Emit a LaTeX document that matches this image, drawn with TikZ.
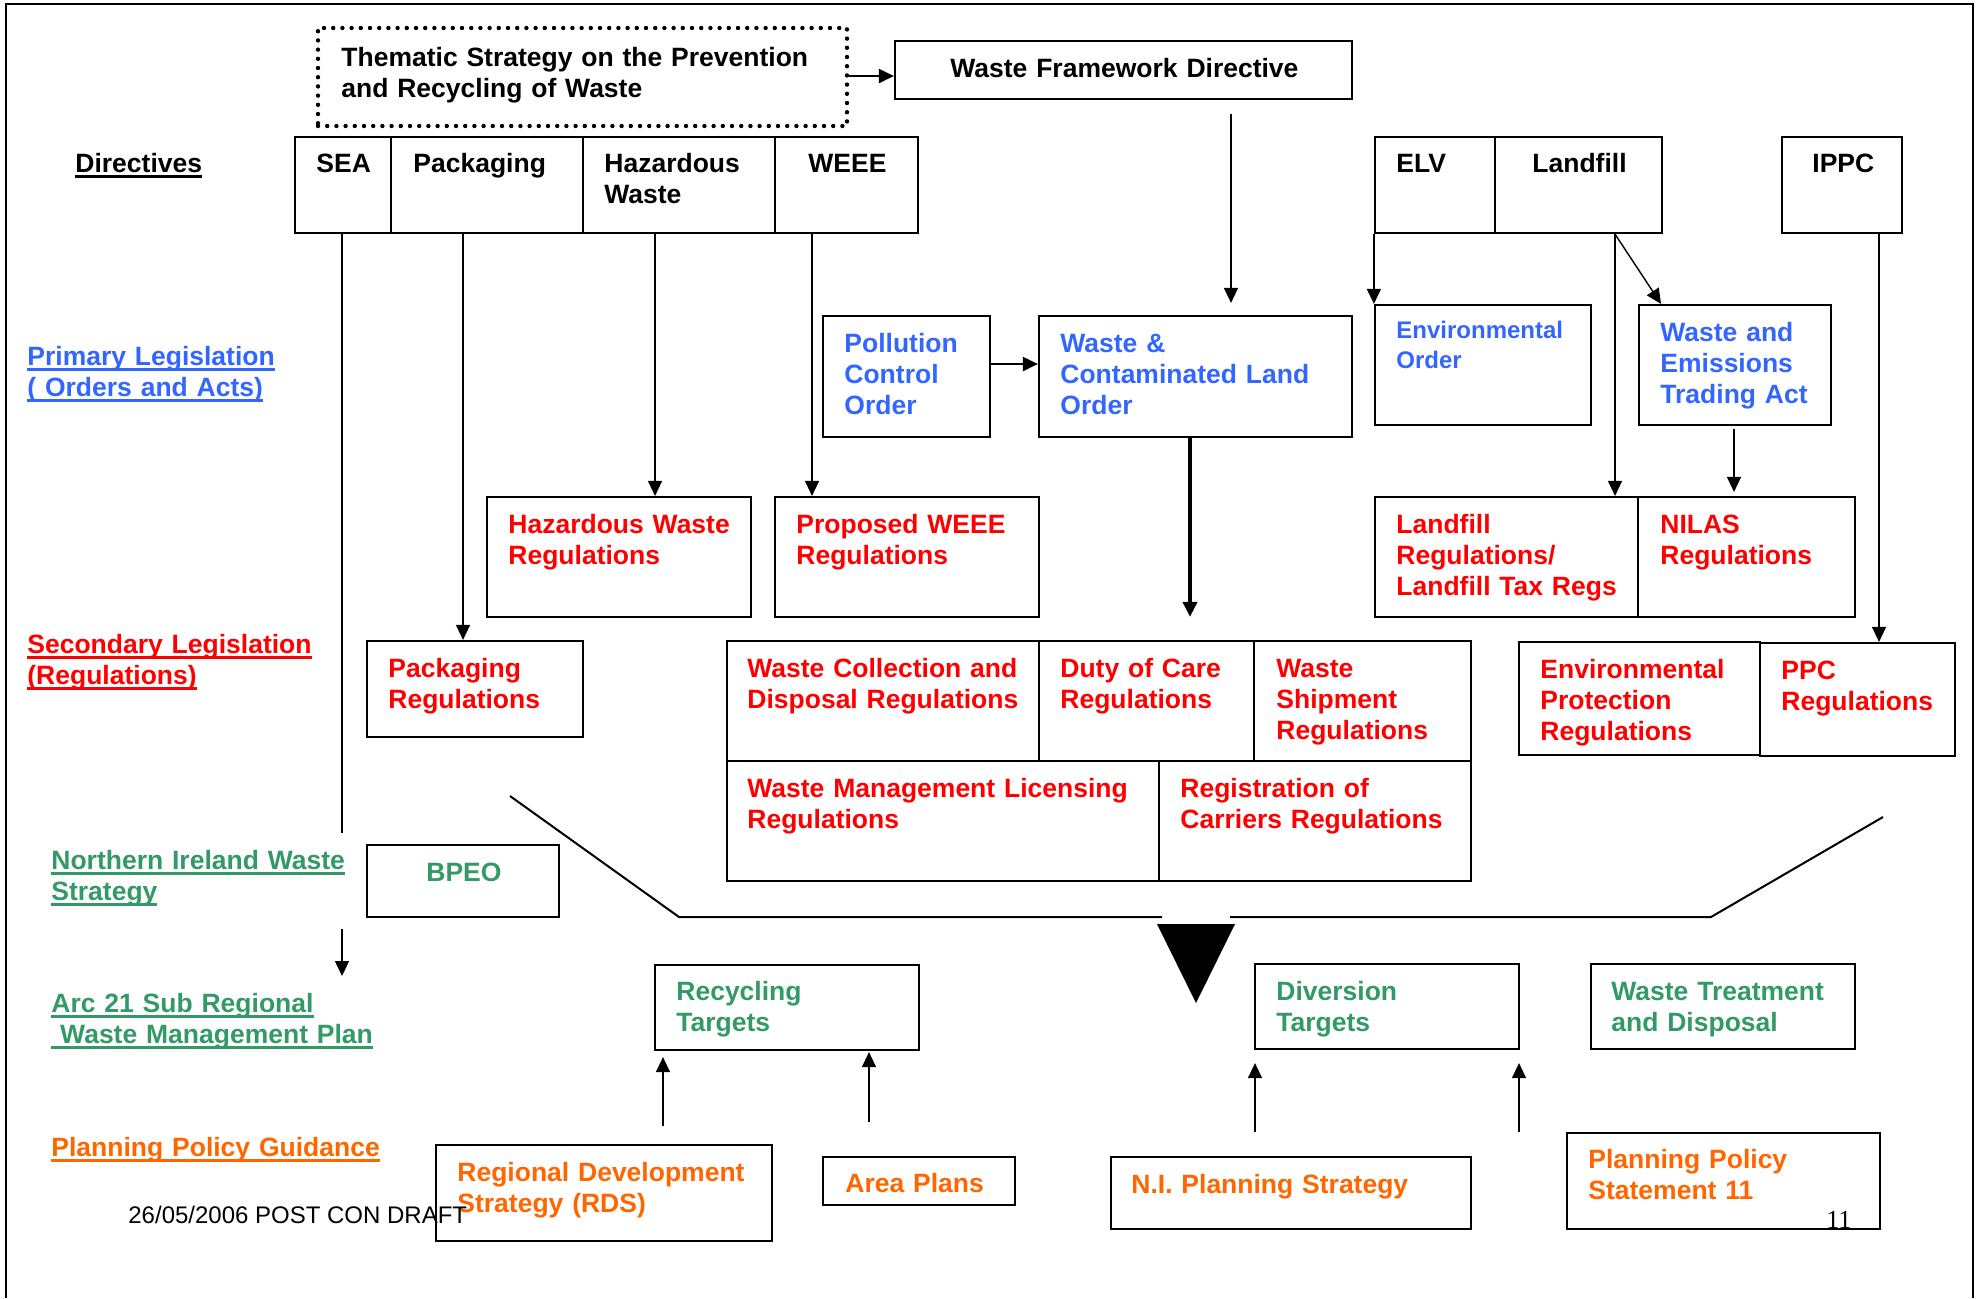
\documentclass[tikz,border=0pt]{standalone}
\usepackage{fontspec}
\setmainfont{Liberation Sans}
\newfontfamily\pgserif{Liberation Serif}
\usetikzlibrary{arrows.meta,fit,calc}
\definecolor{pblue}{HTML}{3366FF}
\definecolor{pred}{HTML}{FF0000}
\definecolor{pgreen}{HTML}{339966}
\definecolor{porange}{HTML}{FF6600}
\newcommand{\uln}[1]{\leavevmode\setbox0\hbox{#1}\rlap{\rule[-2.8pt]{\wd0}{1.1pt}}\box0}
\begin{document}
\begin{tikzpicture}[x=0.5pt,y=-0.5pt,
  box/.style={draw, line width=1.1pt, inner sep=0pt},
  txt/.style={inner sep=0pt, anchor=base west, align=left, text width=260pt, font=\bfseries\fontsize{13.25}{15.5}\selectfont},
  arr/.style={line width=0.7pt, -{Triangle[length=7.5pt,width=7pt]}},
  heavy/.style={line width=1.9pt, -{Triangle[length=7.5pt,width=7pt]}},
  thinline/.style={line width=0.7pt}]
\useasboundingbox (0,0) rectangle (1981,1298);
% frame
\draw[line width=1.2pt] (6,1298) -- (6,4) -- (1973,4) -- (1973,1298);

% helper coordinates
\foreach \xx in {342,463,655,812,1190,1231,1615,1661,1734,1879,663,869,1255,1519}
  \coordinate (x\xx) at (\xx,0);
\foreach \yy in {76,364,833}
  \coordinate (y\yy) at (0,\yy);

% ---- boxes
\node[box, line width=2.2pt, dash pattern=on 0pt off 4.6pt, line cap=round, fit={(318,28) (847,126)}] (thematic) {};
\node[box, fit={(895,41) (1352,99)}] (wfd) {};
\node[box, fit={(295,137) (391,233)}] (sea) {};
\node[box, fit={(391,137) (583,233)}] (pack) {};
\node[box, fit={(583,137) (775,233)}] (haz) {};
\node[box, fit={(775,137) (918,233)}] (weee) {};
\node[box, fit={(1375,137) (1495,233)}] (elv) {};
\node[box, fit={(1495,137) (1662,233)}] (landf) {};
\node[box, fit={(1782,137) (1902,233)}] (ippc) {};
\node[box, fit={(823,316) (990,437)}] (pco) {};
\node[box, fit={(1039,316) (1352,437)}] (wcl) {};
\node[box, fit={(1375,305) (1591,425)}] (envo) {};
\node[box, fit={(1639,305) (1831,425)}] (weta) {};
\node[box, fit={(487,497) (751,617)}] (hazr) {};
\node[box, fit={(775,497) (1039,617)}] (weeer) {};
\node[box, fit={(1375,497) (1638,617)}] (lfr) {};
\node[box, fit={(1638,497) (1855,617)}] (nilas) {};
\node[box, fit={(367,641) (583,737)}] (pkgr) {};
\node[box, fit={(727,641) (1039,761)}] (wcd) {};
\node[box, fit={(1039,641) (1254,761)}] (doc) {};
\node[box, fit={(1254,641) (1471,761)}] (wsr) {};
\node[box, fit={(727,761) (1159,881)}] (wml) {};
\node[box, fit={(1159,761) (1471,881)}] (rcr) {};
\node[box, fit={(1519,642) (1760,755)}] (epr) {};
\node[box, fit={(1760,643) (1955,756)}] (ppc) {};
\node[box, fit={(367,845) (559,917)}] (bpeo) {};
\node[box, fit={(655,965) (919,1050)}] (rec) {};
\node[box, fit={(1255,964) (1519,1049)}] (div) {};
\node[box, fit={(1591,964) (1855,1049)}] (wtd) {};
\node[box, fit={(436,1145) (772,1241)}] (rds) {};
\node[box, fit={(823,1157) (1015,1205)}] (area) {};
\node[box, fit={(1111,1157) (1471,1229)}] (nips) {};
\node[box, fit={(1567,1133) (1880,1229)}] (pps) {};

% ---- texts: black
\node[txt] (thematic-t) at (341,66) {Thematic Strategy on the Prevention\\and Recycling of Waste};
\node[txt] (wfd-t) at (950,77) {Waste Framework Directive};
\node[txt] (sea-t) at (316,172) {SEA};
\node[txt] (pack-t) at (413,172) {Packaging};
\node[txt] (haz-t) at (604,172) {Hazardous\\Waste};
\node[txt] (weee-t) at (808,172) {WEEE};
\node[txt] (elv-t) at (1396,172) {ELV};
\node[txt] (landf-t) at (1532,172) {Landfill};
\node[txt] (ippc-t) at (1812,172) {IPPC};
\node[txt] (dir-l) at (75,172) {\uln{Directives}};

% blue
\begin{scope}[every node/.append style={text=pblue}]
\node[txt] (prim-l) at (27,365) {\uln{Primary Legislation}\\\uln{( Orders and Acts)}};
\node[txt] (pco-t) at (844,352) {Pollution\\Control\\Order};
\node[txt] (wcl-t) at (1060,352) {Waste \&\\Contaminated Land\\Order};
\node[txt, font=\bfseries\fontsize{12}{15}\selectfont] (envo-t) at (1396,338) {Environmental\\Order};
\node[txt] (weta-t) at (1660,341) {Waste and\\Emissions\\Trading Act};
\end{scope}

% red
\begin{scope}[every node/.append style={text=pred}]
\node[txt] (sec-l) at (27,653) {\uln{Secondary Legislation}\\\uln{(Regulations)}};
\node[txt] (hazr-t) at (508,533) {Hazardous Waste\\Regulations};
\node[txt] (weeer-t) at (796,533) {Proposed WEEE\\Regulations};
\node[txt] (lfr-t) at (1396,533) {Landfill\\Regulations/\\Landfill Tax Regs};
\node[txt] (nilas-t) at (1660,533) {NILAS\\Regulations};
\node[txt] (pkgr-t) at (388,677) {Packaging\\Regulations};
\node[txt] (wcd-t) at (747,677) {Waste Collection and\\Disposal Regulations};
\node[txt] (doc-t) at (1060,677) {Duty of Care\\Regulations};
\node[txt] (wsr-t) at (1276,677) {Waste\\Shipment\\Regulations};
\node[txt] (wml-t) at (747,797) {Waste Management Licensing\\Regulations};
\node[txt] (rcr-t) at (1180,797) {Registration of\\Carriers Regulations};
\node[txt] (epr-t) at (1540,678) {Environmental\\Protection\\Regulations};
\node[txt] (ppc-t) at (1781,679) {PPC\\Regulations};
\end{scope}

% green
\begin{scope}[every node/.append style={text=pgreen}]
\node[txt] (ni-l) at (51,869) {\uln{Northern Ireland Waste}\\\uln{Strategy}};
\node[txt] (bpeo-t) at (426,881) {BPEO};
\node[txt] (arc-l) at (51,1012) {\uln{Arc 21 Sub Regional}\\\uln{\ Waste Management Plan}};
\node[txt] (rec-t) at (676,1000) {Recycling\\Targets};
\node[txt] (div-t) at (1276,1000) {Diversion\\Targets};
\node[txt] (wtd-t) at (1611,1000) {Waste Treatment\\and Disposal};
\end{scope}

% orange
\begin{scope}[every node/.append style={text=porange}]
\node[txt] (ppg-l) at (51,1156) {\uln{Planning Policy Guidance}};
\node[txt] (rds-t) at (457,1181) {Regional Development\\Strategy (RDS)};
\node[txt] (area-t) at (845,1192) {Area Plans};
\node[txt] (nips-t) at (1131,1193) {N.I. Planning Strategy};
\node[txt] (pps-t) at (1588,1168) {Planning Policy\\Statement 11};
\end{scope}

\node[inner sep=0pt, anchor=base west, font=\fontsize{12}{14}\selectfont] (draft) at (128,1223) {26/05/2006 POST CON DRAFT};
\node[inner sep=0pt, anchor=base west, font=\pgserif\fontsize{13}{15}\selectfont] (pagenum) at (1826,1228) {11};

% ---- connectors
\draw[arr, line width=1pt] (thematic.east |- y76) -- (wfd.west |- y76);
\draw[arr, shorten <=7pt, shorten >=6pt] (wfd.south -| x1231) -- (wcl.north -| x1231);
\draw[thinline] (sea.south -| x342) -- (x342 |- y833);
\draw[arr] (pack.south -| x463) -- (pkgr.north -| x463);
\draw[arr] (haz.south -| x655) -- (hazr.north -| x655);
\draw[arr] (weee.south -| x812) -- (weeer.north -| x812);
\draw[arr, line width=1pt] (pco.east |- y364) -- (wcl.west |- y364);
\draw[arr] (elv.south west) -- (envo.north west);
\draw[arr] (landf.south -| x1615) -- (weta.north -| x1661);
\draw[arr] (landf.south -| x1615) -- (lfr.north -| x1615);
\draw[arr, shorten <=1.5pt, shorten >=2pt] (weta.south -| x1734) -- (nilas.north -| x1734);
\draw[arr] (ippc.south -| x1879) -- (ppc.north -| x1879);
\draw[heavy, shorten >=11.5pt] (wcl.south -| x1190) -- (doc.north -| x1190);
\coordinate (nia) at (342,929);
\coordinate (nib) at (342,976);
\draw[arr] (nia) -- (nib);
\draw[arr, shorten <=9pt, shorten >=3pt] (rds.north -| x663) -- (rec.south -| x663);
\draw[arr, shorten <=17pt, shorten >=0.5pt] (area.north -| x869) -- (rec.south -| x869);
\draw[arr, shorten <=12pt, shorten >=6.5pt] (nips.north -| x1255) -- (div.south -| x1255);
\draw[arr, shorten >=6.5pt] (pps.north -| x1519) -- (div.south -| x1519);

% ---- funnel
\draw[line width=1pt] (510,796) -- (679,917) -- (1162,917);
\draw[line width=1pt] (1230,917) -- (1711,917) -- (1883,817);
\fill (1157,924) -- (1235,924) -- (1196,1003) -- cycle;
\end{tikzpicture}
\end{document}
